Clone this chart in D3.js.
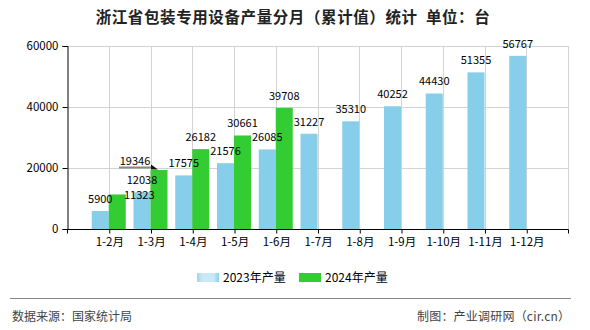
<!DOCTYPE html>
<html><head><meta charset="utf-8">
<script src="https://cdn.jsdelivr.net/npm/d3@7"></script>
<style>
body{margin:0;background:#fff;}
svg{display:block;}
text{font-family:"Noto Sans CJK SC","DejaVu Sans",sans-serif;}
</style></head>
<body>
<svg id="c" width="590" height="330"></svg>
<script>
const categories = ["1-2月","1-3月","1-4月","1-5月","1-6月","1-7月","1-8月","1-9月","1-10月","1-11月","1-12月"];
const seriesNames = ["2023年产量","2024年产量"];
const values2023 = [5900,12038,17575,21576,26085,31227,35310,40252,44430,51355,56767];
const values2024 = [11323,19346,26182,30661,39708,null,null,null,null,null,null];
const yTicks = [0,20000,40000,60000];
const colors = ["#87CEEB","#33CC33"];

const svg = d3.select("#c");
const L = 67, R = 568, T = 46, B = 229;
const numFont = "'Liberation Sans',Arial,sans-serif";

const x = d3.scaleBand().domain(categories).range([L, R]).paddingInner(0).paddingOuter(0.5);
const x1 = d3.scaleBand().domain(seriesNames).range([0, 34]);
const y = d3.scaleLinear().domain([0, 60000]).range([B, T]);
const cx = c => x(c) + x.bandwidth() / 2;

// gradient for legend swatch
const defs = svg.append("defs");
const g1 = defs.append("linearGradient").attr("id","lg1");
g1.append("stop").attr("offset","0%").attr("stop-color","#9fd6ee");
g1.append("stop").attr("offset","25%").attr("stop-color","#cbe8f6");
g1.append("stop").attr("offset","75%").attr("stop-color","#cbe8f6");
g1.append("stop").attr("offset","100%").attr("stop-color","#8ccfec");

// title
svg.append("text").attr("x", 293).attr("y", 23).attr("text-anchor","middle")
  .attr("font-size", 15.5).attr("font-weight","bold").attr("fill","#222")
  .attr("letter-spacing", 0.6).style("white-space","pre")
  .text("浙江省包装专用设备产量分月（累计值）统计  单位：台");

// grid
const grid = svg.append("g").attr("stroke","#d3d3d3").attr("stroke-width",1);
yTicks.filter(v => v > 0).forEach(v => {
  grid.append("line").attr("x1", L).attr("x2", R).attr("y1", Math.round(y(v))+0.5).attr("y2", Math.round(y(v))+0.5);
});
categories.forEach(c => {
  grid.append("line").attr("x1", Math.round(cx(c))+0.5).attr("x2", Math.round(cx(c))+0.5).attr("y1", T).attr("y2", B);
});
grid.append("line").attr("x1", R+0.5).attr("x2", R+0.5).attr("y1", T).attr("y2", B);

// bars
const rows = categories.map((c, i) => ({c, v: [values2023[i], values2024[i]]}));
const bars = svg.append("g");
rows.forEach(r => {
  seriesNames.forEach((s, j) => {
    const v = r.v[j];
    if (v == null) return;
    bars.append("rect")
      .attr("x", cx(r.c) - 17 + x1(s))
      .attr("y", y(v))
      .attr("width", x1.bandwidth())
      .attr("height", y(0) - y(v))
      .attr("fill", colors[j]);
  });
});

// axes
const yAxis = d3.axisLeft(y).tickValues(yTicks).tickSize(5).tickPadding(4).tickFormat(d3.format("d"));
const ya = svg.append("g").attr("transform", `translate(${L+0.5},0)`).call(yAxis);
ya.select(".domain").attr("stroke","#000");
ya.selectAll("text").attr("font-size", 11.5).attr("fill","#000").attr("font-family", numFont);

const xAxis = d3.axisBottom(d3.scalePoint().domain(categories).range([cx(categories[0]), cx(categories[categories.length-1])]))
  .tickSize(4).tickPadding(4).tickSizeOuter(0);
const xa = svg.append("g").attr("transform", `translate(0.5,${B+0.5})`).call(xAxis);
xa.select(".domain").attr("d", `M${L},0H${R}`).attr("stroke","#000");
xa.selectAll("text").attr("font-size", 11.5).attr("fill","#000");
[L, R].forEach(px => xa.append("line").attr("x1", px).attr("x2", px).attr("y1", 0).attr("y2", 4).attr("stroke","#000"));

// value labels (some displaced as in the original to avoid collisions)
const labelShift = {"0-1": [22, 12.5], "1-1": [-24, 3]};
const labels = svg.append("g").attr("font-size", 11).attr("fill","#000").attr("text-anchor","middle");
rows.forEach((r, i) => {
  seriesNames.forEach((s, j) => {
    const v = r.v[j];
    if (v == null) return;
    const sh = labelShift[i + "-" + j] || [0, 0];
    const bx = cx(r.c) - 17 + x1(s) + x1.bandwidth() / 2;
    labels.append("text").attr("x", bx + sh[0]).attr("y", y(v) - 8 + sh[1])
      .attr("font-family", numFont).text(v);
  });
});
// annotation arrow for displaced label
const ay = y(values2024[1]) - 2.5;
svg.append("line").attr("x1", 119).attr("x2", 153).attr("y1", ay).attr("y2", ay)
  .attr("stroke","#888").attr("stroke-width", 2);
svg.append("path").attr("d", `M151,${ay-3}L158,${ay+2}L151,${ay+2}Z`).attr("fill","#111");

// legend
const lg = svg.append("g");
lg.append("rect").attr("x",197).attr("y",273).attr("width",22).attr("height",9).attr("fill","url(#lg1)");
lg.append("text").attr("x",223).attr("y",281.5).attr("font-size",12).attr("fill","#000").text(seriesNames[0]);
lg.append("rect").attr("x",299).attr("y",273).attr("width",22).attr("height",9).attr("fill",colors[1]);
lg.append("text").attr("x",325).attr("y",281.5).attr("font-size",12).attr("fill","#000").text(seriesNames[1]);

// footer
svg.append("line").attr("x1",10).attr("x2",571).attr("y1",298.5).attr("y2",298.5).attr("stroke","#888").attr("stroke-width",1.2);
svg.append("text").attr("x",12).attr("y",321).attr("font-size",12).attr("fill","#444").text("数据来源：国家统计局");
svg.append("text").attr("x",417).attr("y",321).attr("font-size",12).attr("fill","#444")
  .attr("textLength",153).attr("lengthAdjust","spacing").text("制图：产业调研网（cir.cn）");
</script>
</body></html>
